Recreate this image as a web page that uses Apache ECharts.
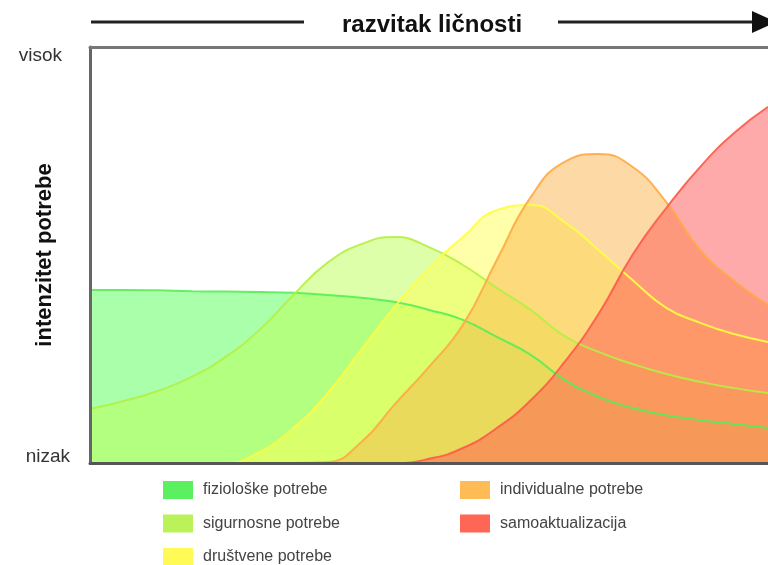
<!DOCTYPE html>
<html>
<head>
<meta charset="utf-8">
<script src="https://cdn.jsdelivr.net/npm/echarts@6/dist/echarts.min.js"></script>
<style>html,body{margin:0;padding:0;background:#fff;}#c{width:768px;height:565px;}</style>
</head>
<body>
<div id="c"></div>
<script>
// x positions along "razvitak ličnosti" (0..100)
var xs = [0,5,10,15,20,25,30,35,40,45,50,55,60,65,70,75,80,85,90,95,100];
var seriesNames = ['fiziološke potrebe','sigurnosne potrebe','društvene potrebe','individualne potrebe','samoaktualizacija'];
var fizioloske   = [41.6,41.6,41.5,41.3,41.2,41.1,40.9,40.4,39.7,38.7,36.8,34.4,30.3,26.0,20.0,15.9,13.2,11.5,10.3,9.4,8.4];
var sigurnosne   = [13.0,14.9,17.3,20.7,25.5,32.0,40.4,48.1,52.6,54.3,51.9,47.6,42.1,36.8,30.5,26.7,23.8,21.4,19.5,18.0,16.8];
var drustvene    = [0,0,0,0,0,2.6,8.4,16.8,27.2,37.7,46.9,54.3,60.8,62.0,57.9,51.2,44.0,37.3,33.7,31.0,29.1];
var individualne = [0,0,0,0,0,0,0,0.2,5.0,14.2,23.1,33.2,48.8,63.9,72.4,74.3,71.2,62.7,51.2,43.8,38.0];
var samoakt      = [0,0,0,0,0,0,0,0,0,0,1.0,3.6,8.4,15.1,24.3,35.8,50.0,61.3,71.2,79.3,85.6];
var yTickLabels = ['nizak','visok'];
var titleText = 'razvitak ličnosti';
var yName = 'intenzitet potrebe';

var allValues = [fizioloske, sigurnosne, drustvene, individualne, samoakt];
var lineColors = ['#55ee55','#b4f044','#ffff44','#ffaa44','#ff5a4a'];
var areaColors = ['rgba(85,255,85,0.5)','rgba(187,255,85,0.5)','rgba(255,255,85,0.5)','rgba(252,182,76,0.5)','rgba(255,85,85,0.5)'];
var swatchColors = ['#5af060','#bbf25a','#fffa55','#ffbb55','#ff6655'];

function pairs(vals){ return xs.map(function(x,i){ return [x, vals[i]]; }); }

var series = [];
// filled areas
allValues.forEach(function(vals, i){
  series.push({
    name: seriesNames[i],
    type: 'line',
    data: pairs(vals),
    smooth: 0.5,
    symbol: 'none',
    clip: true,
    lineStyle: {width: 0, opacity: 0},
    itemStyle: {color: swatchColors[i]},
    areaStyle: {color: areaColors[i], opacity: 1},
    z: 2 + i
  });
});
// outlines drawn above every fill
allValues.forEach(function(vals, i){
  series.push({
    name: seriesNames[i],
    type: 'line',
    data: pairs(vals),
    smooth: 0.5,
    symbol: 'none',
    clip: true,
    lineStyle: {color: lineColors[i], width: 2, opacity: 0.9},
    itemStyle: {color: swatchColors[i]},
    z: 10 + i
  });
});

var FONT = '"Liberation Sans", Arial, sans-serif';
var chart = echarts.init(document.getElementById('c'), null, {renderer: 'canvas'});
chart.setOption({
  animation: false,
  backgroundColor: '#ffffff',
  title: {
    text: titleText,
    left: 337, top: 8,
    textStyle: {fontFamily: FONT, fontSize: 24, fontWeight: 'bold', color: '#111'}
  },
  grid: {left: 90, right: 0, top: 47, bottom: 102, containLabel: false, outerBoundsMode: 'none'},
  legend: [
    {
      data: seriesNames.slice(0,3), orient: 'vertical', left: 163, top: 481, height: 120, padding: 0,
      icon: 'rect', itemWidth: 30, itemHeight: 18, itemGap: 15.5,
      textStyle: {fontFamily: FONT, fontSize: 16, color: '#444', padding: [0,0,0,5]}
    },
    {
      data: seriesNames.slice(3), orient: 'vertical', left: 460, top: 481, height: 120, padding: 0,
      icon: 'rect', itemWidth: 30, itemHeight: 18, itemGap: 15.5,
      textStyle: {fontFamily: FONT, fontSize: 16, color: '#444', padding: [0,0,0,5]}
    }
  ],
  xAxis: [
    {type: 'value', min: 0, max: 100, position: 'bottom', z: 30,
     axisLine: {show: true, lineStyle: {color: '#555', width: 3}},
     axisTick: {show: false}, axisLabel: {show: false}, splitLine: {show: false}},
    {type: 'value', min: 0, max: 100, position: 'top', z: 30,
     axisLine: {show: true, lineStyle: {color: '#777', width: 3}},
     axisTick: {show: false}, axisLabel: {show: false}, splitLine: {show: false}}
  ],
  yAxis: {
    type: 'value', min: 0, max: 100, interval: 100, z: 30,
    name: yName, nameLocation: 'middle', nameRotate: 90, nameGap: 34, nameMoveOverlap: false,
    nameTextStyle: {fontFamily: FONT, fontSize: 22, fontWeight: 'bold', color: '#111'},
    axisLine: {show: true, lineStyle: {color: '#666', width: 3}},
    axisTick: {show: false}, splitLine: {show: false},
    axisLabel: {
      margin: 20,
      formatter: function(v){ return v === 0 ? '{lo|' + yTickLabels[0] + '}' : '{hi|' + yTickLabels[1] + '}'; },
      rich: {
        lo: {fontFamily: FONT, fontSize: 19, color: '#333', padding: [0,0,12,0]},
        hi: {fontFamily: FONT, fontSize: 19, color: '#333', padding: [18,8,0,0]}
      }
    }
  },
  graphic: [
    {type: 'line', shape: {x1: 91, y1: 22, x2: 304, y2: 22}, style: {stroke: '#222', lineWidth: 3}},
    {type: 'line', shape: {x1: 558, y1: 22, x2: 756, y2: 22}, style: {stroke: '#222', lineWidth: 3}},
    {type: 'polygon', shape: {points: [[752,11],[776,22],[752,33]]}, style: {fill: '#111'}}
  ],
  series: series
});
</script>
</body>
</html>
